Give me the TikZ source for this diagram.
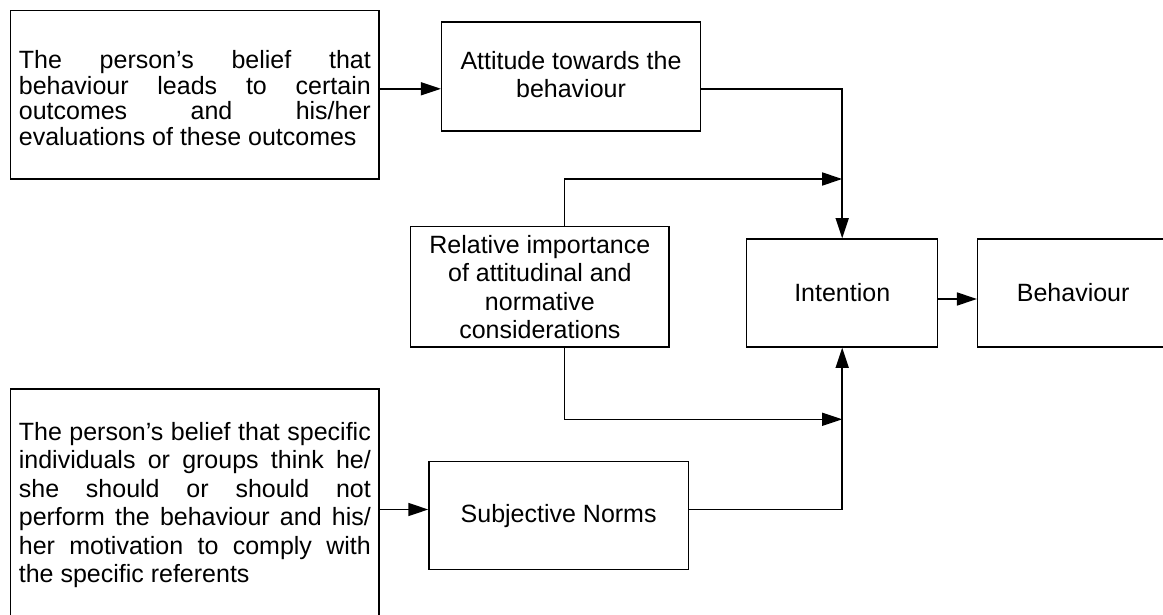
\documentclass[tikz,border=0pt]{standalone}
\usepackage{fontspec}
\setmainfont{Liberation Sans}
\usetikzlibrary{arrows.meta}
\begin{document}
\begin{tikzpicture}[x=1pt,y=-1pt,
  box/.style={draw, line width=1.5pt, rectangle, inner sep=0pt,
    font=\fontsize{25}{28.5}\selectfont},
  sidebox/.style={box, text width=352pt, align=justify},
  midbox/.style={box, align=center},
  ln/.style={line width=1.5pt},
  arr/.style={ln, -{Triangle[length=20pt,width=13pt]}}]
\useasboundingbox (0,0) rectangle (1163,615);
\begin{scope}
\clip (0,0) rectangle (1163,615);

% boxes
\node[sidebox, minimum width=368.3pt, minimum height=168.3pt,
      font=\fontsize{25}{25.8}\selectfont] (b1) at (194.85,94.85)
  {\rule{0pt}{24.5pt}The person’s belief that\linebreak
   behaviour leads to certain\linebreak
   outcomes and his/her\linebreak
   evaluations of these outcomes};
\node[midbox, minimum width=258.6pt, minimum height=109pt] (att) at (571,76.5)
  {Attitude towards the\\behaviour\rule[-4pt]{0pt}{1pt}};
\node[midbox, minimum width=258.3pt, minimum height=120.3pt] (rel) at (539.85,286.85)
  {Relative importance\\of attitudinal and\\normative\\considerations};
\node[midbox, minimum width=191pt, minimum height=108pt] (int) at (842.2,293)
  {Intention};
\node[midbox, minimum width=191pt, minimum height=108pt] (beh) at (1073.2,293)
  {Behaviour};
\node[sidebox, minimum width=368.3pt, minimum height=232pt] (b3) at (194.85,505)
  {The person’s belief that specific\linebreak
   individuals or groups think he/\linebreak
   she should or should not\linebreak
   perform the behaviour and his/\linebreak
   her motivation to comply with\linebreak
   the specific referents};
\node[midbox, minimum width=259.3pt, minimum height=108pt] (sn) at (558.65,515.7)
  {Subjective Norms};

% routing levels
\coordinate (yA) at (0,88.8);
\coordinate (yU) at (0,179);
\coordinate (yL) at (0,419.3);
\coordinate (yS) at (0,509.5);
\coordinate (yI) at (0,299);
\coordinate (xR) at (564.3,0);

% connectors
\draw[arr] (b1.east |- yA) -- (att.west |- yA);
\draw[arr] (att.east |- yA) -| (int.north);
\draw[arr] (xR |- rel.north) |- (int.north |- yU);
\draw[arr] (xR |- rel.south) |- (int.north |- yL);
\draw[arr] (b3.east |- yS) -- (sn.west |- yS);
\draw[arr] (sn.east |- yS) -| (int.south);
\draw[arr] (int.east |- yI) -- (beh.west |- yI);
\end{scope}
\end{tikzpicture}
\end{document}
